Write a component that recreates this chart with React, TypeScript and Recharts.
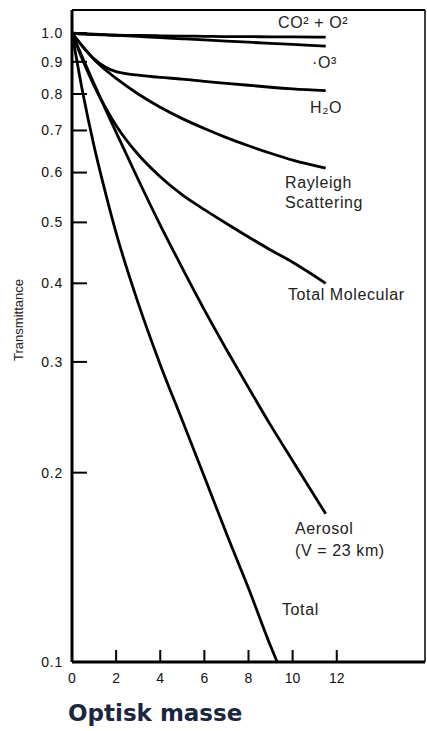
import React from "react";
import { LineChart, Line, XAxis, YAxis, ReferenceLine } from "recharts";

// optical mass samples shared by most curves
const MASS = [0, 0.5, 1, 1.5, 2, 3, 4, 5, 6, 7, 8, 9, 10, 11.5];
const MASS_TOTAL = [0, 0.5, 1, 1.5, 2, 3, 4, 5, 6, 7, 8, 9, 9.3];

const CO2_O2 = [1.0, 0.996, 0.994, 0.993, 0.992, 0.991, 0.99, 0.989, 0.988, 0.987, 0.987, 0.986, 0.986, 0.985];
const O3 = [1.0, 0.998, 0.996, 0.994, 0.992, 0.988, 0.983, 0.979, 0.975, 0.971, 0.967, 0.963, 0.959, 0.953];
const H2O = [1.0, 0.95, 0.91, 0.883, 0.868, 0.857, 0.85, 0.845, 0.838, 0.832, 0.826, 0.82, 0.815, 0.81];
const RAYLEIGH = [1.0, 0.951, 0.908, 0.875, 0.847, 0.8, 0.762, 0.731, 0.705, 0.682, 0.662, 0.644, 0.628, 0.61];
const TOTAL_MOLECULAR = [1.0, 0.903, 0.825, 0.763, 0.713, 0.641, 0.591, 0.553, 0.524, 0.498, 0.474, 0.452, 0.432, 0.4];
const AEROSOL = [1.0, 0.91, 0.83, 0.759, 0.695, 0.585, 0.495, 0.423, 0.363, 0.314, 0.273, 0.238, 0.209, 0.172];
const TOTAL = [1.0, 0.8, 0.661, 0.56, 0.481, 0.372, 0.297, 0.242, 0.197, 0.16, 0.131, 0.106, 0.1];

const Y_TICKS = [0.1, 0.2, 0.3, 0.4, 0.5, 0.6, 0.7, 0.8, 0.9, 1.0];
const X_TICKS = [0, 2, 4, 6, 8, 10, 12];
const Y_MAX = 1.088;
const X_MAX = 16;

const toPoints = (xs: number[], ys: number[]) => xs.map((x, i) => ({ x, y: ys[i] }));

const SERIES = [
  { name: "CO2 + O2", data: toPoints(MASS, CO2_O2) },
  { name: "O3", data: toPoints(MASS, O3) },
  { name: "H2O", data: toPoints(MASS, H2O) },
  { name: "Rayleigh", data: toPoints(MASS, RAYLEIGH) },
  { name: "Total Molecular", data: toPoints(MASS, TOTAL_MOLECULAR) },
  { name: "Aerosol", data: toPoints(MASS, AEROSOL) },
  { name: "Total", data: toPoints(MASS_TOTAL, TOTAL) },
];

const FONT = "'Liberation Sans', Arial, sans-serif";
const TICK_GAP_Y = 9;
const TICK_GAP_X = 11;

// ticks point inward, like the printed figure
const YTick = (props: any) => {
  const { x, y, payload } = props;
  return (
    <g>
      <line x1={x + TICK_GAP_Y} x2={x + TICK_GAP_Y + 15} y1={y} y2={y} stroke="#000" strokeWidth={2} />
      <text x={x} y={y} dy="0.35em" textAnchor="end" fill="#111" fontSize={14} fontFamily={FONT} letterSpacing={0.8}>
        {Number(payload.value).toFixed(1)}
      </text>
    </g>
  );
};

const XTick = (props: any) => {
  const { x, y, payload } = props;
  return (
    <g>
      <line x1={x} x2={x} y1={y - TICK_GAP_X} y2={y - TICK_GAP_X - 12} stroke="#000" strokeWidth={2} />
      <text x={x} y={y} dy="0.71em" textAnchor="middle" fill="#111" fontSize={14} fontFamily={FONT}>
        {payload.value}
      </text>
    </g>
  );
};

const labelStyle = (left: number, top: number): React.CSSProperties => ({
  position: "absolute",
  left,
  top,
  fontFamily: FONT,
  fontSize: 16,
  lineHeight: "18px",
  letterSpacing: 0.6,
  color: "#222",
  whiteSpace: "nowrap",
});

export default function App() {
  return (
    <div style={{ position: "absolute", left: 0, top: 0, width: 427, height: 731, background: "#fff" }}>
      <LineChart width={427} height={700} margin={{ top: 10, right: 2, bottom: 0, left: 0 }}>
        <XAxis
          type="number"
          dataKey="x"
          domain={[0, X_MAX]}
          ticks={X_TICKS}
          allowDataOverflow
          height={38}
          axisLine={{ stroke: "#000", strokeWidth: 3 }}
          tickLine={false}
          tickSize={0}
          tickMargin={TICK_GAP_X}
          tick={<XTick />}
        />
        <YAxis
          type="number"
          dataKey="y"
          scale="log"
          domain={[0.1, Y_MAX]}
          ticks={Y_TICKS}
          allowDataOverflow
          width={72}
          axisLine={{ stroke: "#000", strokeWidth: 3 }}
          tickLine={false}
          tickSize={0}
          tickMargin={TICK_GAP_Y}
          tick={<YTick />}
        />
        <ReferenceLine y={Y_MAX} stroke="#000" strokeWidth={2} ifOverflow="visible" />
        <ReferenceLine x={X_MAX} stroke="#000" strokeWidth={1.5} ifOverflow="visible" />
        {SERIES.map((s) => (
          <Line
            key={s.name}
            data={s.data}
            dataKey="y"
            type="monotone"
            stroke="#000"
            strokeWidth={2.8}
            dot={false}
            isAnimationActive={false}
          />
        ))}
      </LineChart>

      <div style={labelStyle(278, 14)}>CO² + O²</div>
      <div style={labelStyle(312, 54)}>·O³</div>
      <div style={labelStyle(310, 99)}>H₂O</div>
      <div style={{ ...labelStyle(285, 173), lineHeight: "20px" }}>
        Rayleigh
        <br />
        Scattering
      </div>
      <div style={labelStyle(288, 286)}>Total Molecular</div>
      <div style={{ ...labelStyle(295, 518), lineHeight: "22px" }}>
        Aerosol
        <br />
        (V = 23 km)
      </div>
      <div style={labelStyle(282, 601)}>Total</div>

      <div
        style={{
          position: "absolute",
          left: 18,
          top: 320,
          transform: "translate(-50%, -50%) rotate(-90deg)",
          fontFamily: FONT,
          fontSize: 13,
          color: "#222",
          whiteSpace: "nowrap",
        }}
      >
        Transmittance
      </div>

      <div
        style={{
          position: "absolute",
          left: 68,
          top: 700,
          fontFamily: "'DejaVu Sans', Verdana, sans-serif",
          fontWeight: "bold",
          fontSize: 23,
          lineHeight: "26px",
          color: "#1c2640",
          whiteSpace: "nowrap",
        }}
      >
        Optisk masse
      </div>
    </div>
  );
}
